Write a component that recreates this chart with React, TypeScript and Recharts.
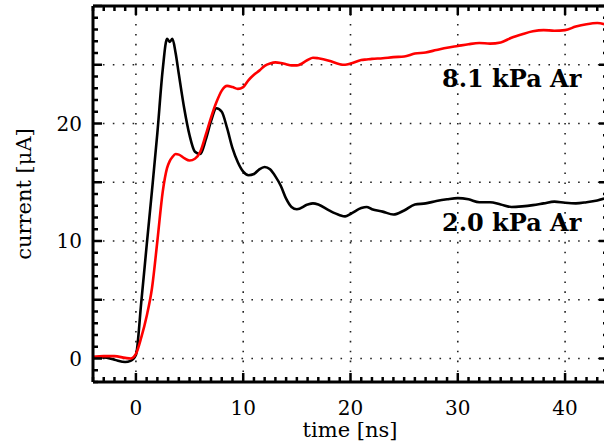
import React from "react";
import { LineChart, Line, XAxis, YAxis, ReferenceLine } from "recharts";

// time axis [ns], shared by both traces
const timeNs = [
  -4, -3, -2, -1, -0.5, 0, 0.5, 1, 1.5, 2, 2.5, 2.9, 3.15, 3.4, 3.7, 4, 4.5, 5, 5.5, 6, 6.5, 7, 7.5, 8, 8.5, 9,
  9.5, 10, 10.5, 11, 11.5, 12, 12.5, 13, 13.5, 14, 14.5, 15, 16, 16.5, 17, 18, 19, 19.5, 20, 21, 21.5, 22, 23,
  24, 25, 26, 27, 28, 29, 30, 31, 32, 33, 34, 35, 36, 37, 38, 39, 40, 41, 42, 43, 44,
];

// 2.0 kPa Ar (black) [µA]
const current20 = [
  0.1, 0.1, -0.1, -0.3, -0.2, 0.3, 4.8, 9.6, 14.3, 19.2, 24.6, 27.2, 26.95, 27.2, 26.0, 24.2, 21.3, 19.0, 17.6,
  17.4, 18.6, 20.2, 21.3, 21.0, 19.6, 17.9, 16.7, 15.9, 15.6, 15.7, 16.1, 16.3, 16.1, 15.5, 14.7, 13.6, 12.9,
  12.7, 13.1, 13.2, 13.1, 12.6, 12.2, 12.1, 12.3, 12.8, 12.9, 12.7, 12.5, 12.25, 12.6, 13.1, 13.2, 13.4, 13.55,
  13.65, 13.55, 13.3, 13.3, 13.1, 12.9, 12.95, 13.05, 13.2, 13.35, 13.25, 13.2, 13.3, 13.45, 13.7,
];

// 8.1 kPa Ar (red) [µA]
const current81 = [
  0.15, 0.2, 0.2, 0.05, 0.0, 0.4, 1.8, 3.6, 6.0, 10.0, 14.2, 16.2, 16.8, 17.15, 17.4, 17.35, 17.05, 16.85, 17.0,
  17.6, 19.0, 20.5, 21.8, 22.8, 23.2, 23.1, 22.95, 23.1, 23.7, 24.15, 24.5, 24.9, 25.1, 25.2, 25.15, 25.05,
  24.95, 24.95, 25.4, 25.6, 25.55, 25.35, 25.05, 25.0, 25.1, 25.4, 25.45, 25.5, 25.55, 25.65, 25.7, 25.95,
  26.05, 26.25, 26.45, 26.6, 26.75, 26.85, 26.8, 26.9, 27.3, 27.6, 27.85, 27.95, 27.9, 27.95, 28.25, 28.45,
  28.55, 28.35,
];

const xDomain = [-4, 44];
const yDomain = [-2, 30];
const xGrid = [0, 10, 20, 30, 40];
const yGrid = [0, 5, 10, 15, 20, 25];
const yLabels = [0, 10, 20];

const xTicks = Array.from({ length: xDomain[1] - xDomain[0] + 1 }, (_, i) => xDomain[0] + i);
const yTicks = Array.from({ length: yDomain[1] - yDomain[0] + 1 }, (_, i) => yDomain[0] + i);

const data = timeNs.map((t, i) => ({ t, b: current20[i], r: current81[i] }));

const FONT = "'DejaVu Serif', serif";
const TICK_W = 2.5;

function BottomTick({ x, y, payload }: any) {
  const v = payload.value;
  const major = v % 10 === 0;
  return (
    <g>
      <line x1={x} x2={x} y1={y} y2={y - (major ? 9 : 5)} stroke="#000" strokeWidth={TICK_W} />
      {major && (
        <text x={x} y={y + 33} textAnchor="middle" fontFamily={FONT} fontSize={20} fill="#000">
          {v}
        </text>
      )}
    </g>
  );
}

function TopTick({ x, y, payload }: any) {
  const major = payload.value % 10 === 0;
  return <line x1={x} x2={x} y1={y} y2={y + (major ? 9 : 5)} stroke="#000" strokeWidth={TICK_W} />;
}

function LeftTick({ x, y, payload }: any) {
  const v = payload.value;
  const major = v % 5 === 0;
  return (
    <g>
      <line x1={x} x2={x + (major ? 9 : 5)} y1={y} y2={y} stroke="#000" strokeWidth={TICK_W} />
      {yLabels.includes(v) && (
        <text x={x - 11} y={y + 7} textAnchor="end" fontFamily={FONT} fontSize={20} fill="#000">
          {v}
        </text>
      )}
    </g>
  );
}

function RightTick({ x, y, payload }: any) {
  const major = payload.value % 5 === 0;
  return <line x1={x} x2={x - (major ? 9 : 5)} y1={y} y2={y} stroke="#000" strokeWidth={TICK_W} />;
}

const frame = { stroke: "#000", strokeWidth: 3 };
const gridStyle = { stroke: "#222", strokeWidth: 1.6, strokeDasharray: "1.6 8.3" };

export default function App() {
  return (
    <div style={{ position: "absolute", left: 0, top: 0, width: 604, height: 447, overflow: "hidden", background: "#fff" }}>
      <LineChart width={612} height={447} data={data} margin={{ top: 0, right: 0, bottom: 35, left: 43 }}>
        <XAxis
          dataKey="t"
          type="number"
          domain={xDomain}
          ticks={xTicks}
          interval={0}
          allowDataOverflow
          height={30}
          axisLine={frame}
          tickLine={false}
          tickSize={0}
          tickMargin={0}
          tick={<BottomTick />}
        />
        <XAxis
          xAxisId="top"
          orientation="top"
          dataKey="t"
          type="number"
          domain={xDomain}
          ticks={xTicks}
          interval={0}
          allowDataOverflow
          height={6}
          axisLine={frame}
          tickLine={false}
          tickSize={0}
          tickMargin={0}
          tick={<TopTick />}
        />
        <YAxis
          type="number"
          domain={yDomain}
          ticks={yTicks}
          interval={0}
          allowDataOverflow
          width={50}
          axisLine={frame}
          tickLine={false}
          tickSize={0}
          tickMargin={0}
          tick={<LeftTick />}
        />
        <YAxis
          yAxisId="right"
          orientation="right"
          type="number"
          domain={yDomain}
          ticks={yTicks}
          interval={0}
          allowDataOverflow
          width={4}
          axisLine={frame}
          tickLine={false}
          tickSize={0}
          tickMargin={0}
          tick={<RightTick />}
        />
        {xGrid.map((v) => (
          <ReferenceLine key={"x" + v} x={v} {...gridStyle} />
        ))}
        {yGrid.map((v) => (
          <ReferenceLine key={"y" + v} y={v} {...gridStyle} />
        ))}
        <Line type="monotone" dataKey="b" stroke="#000" strokeWidth={2.6} dot={false} isAnimationActive={false} />
        <Line type="monotone" dataKey="r" stroke="#ff0000" strokeWidth={2.6} dot={false} isAnimationActive={false} />
      </LineChart>
      <svg width={604} height={447} style={{ position: "absolute", left: 0, top: 0, pointerEvents: "none" }}>
        <text x={442} y={87} fontFamily={FONT} fontWeight="bold" fontSize={24} fill="#000">
          8.1 kPa Ar
        </text>
        <text x={442} y={231} fontFamily={FONT} fontWeight="bold" fontSize={24} fill="#000">
          2.0 kPa Ar
        </text>
        <text x={350} y={437} textAnchor="middle" fontFamily={FONT} fontSize={21} fill="#000">
          time [ns]
        </text>
        <text
          x={0}
          y={0}
          transform="translate(31 194) rotate(-90)"
          textAnchor="middle"
          fontFamily={FONT}
          fontSize={21}
          fill="#000"
        >
          current [μA]
        </text>
      </svg>
    </div>
  );
}
